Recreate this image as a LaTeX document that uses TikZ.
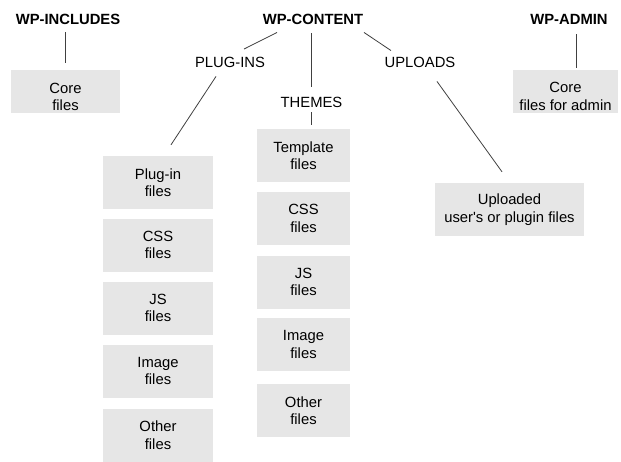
\documentclass[tikz,border=0pt]{standalone}
\usepackage{fontspec}
\setmainfont{Liberation Sans}
\definecolor{boxgray}{HTML}{E6E6E6}
\definecolor{linegray}{HTML}{404040}
\begin{document}
\begin{tikzpicture}[x=1pt,y=-1pt,
  title/.style={font=\fontsize{14.8}{17.5}\selectfont\bfseries, inner sep=0pt, anchor=center},
  label/.style={font=\fontsize{14.8}{17.5}\selectfont, inner sep=0pt, anchor=center},
  boxtext/.style={font=\fontsize{14.8}{17.5}\selectfont, inner sep=0pt, align=center},
  filebox/.style={fill=boxgray, draw=none, minimum width=#1, minimum height=53pt,
    inner sep=0pt, align=center, font=\fontsize{14.8}{17.5}\selectfont},
  filebox/.default=110pt,
  conn/.style={draw=linegray, line width=0.8pt}]
\useasboundingbox (0,0) rectangle (621,461);
% titles
\node[title] (inc) at (68,19) {WP-INCLUDES};
\node[title] (content) at (313,19) {WP-CONTENT};
\node[title] (admin) at (569,19) {WP-ADMIN};
% sub labels
\node[label] (plugins) at (230,62) {PLUG-INS};
\node[label] (themes) at (311.5,102) {THEMES};
\node[label] (uploads) at (420,62) {UPLOADS};
% top boxes (text sits low in these boxes)
\node[filebox=109pt, minimum height=43pt] (corebox) at (65.5,91.5) {};
\node[boxtext] (coretext) at (65.5,97) {Core\\files};
\node[filebox=105pt, minimum height=43pt] (adminbox) at (565.5,91.5) {};
\node[boxtext] (admintext) at (565.5,96.5) {Core\\files for admin};
\node[filebox=149pt] (upbox) at (509.5,209.5) {Uploaded\\user\textquotesingle s or plugin files};
% plug-in column
\node[filebox] (p1) at (158,182.5) {Plug-in\\files};
\node[filebox] (p2) at (158,245) {CSS\\files};
\node[filebox] (p3) at (158,308) {JS\\files};
\node[filebox] (p4) at (158,371) {Image\\files};
\node[filebox] (p5) at (158,435) {Other\\files};
% themes column
\node[filebox=93pt] (t1) at (303.5,155.5) {Template\\files};
\node[filebox=93pt] (t2) at (303.5,218.5) {CSS\\files};
\node[filebox=93pt] (t3) at (303.5,282) {JS\\files};
\node[filebox=93pt] (t4) at (303.5,344.5) {Image\\files};
\node[filebox=93pt] (t5) at (303.5,410.5) {Other\\files};
% connectors
\draw[conn] ([yshift=-8pt]inc.south -| corebox.north) -- ([yshift=7pt]corebox.north);
\draw[conn] ([xshift=-2pt,yshift=-9pt]content.south) -- ([xshift=-0.5pt,yshift=10pt]themes.north);
\draw[conn] ([xshift=-0.5pt,yshift=-5pt]themes.south) -- ([xshift=7.5pt,yshift=4pt]t1.north);
\draw[conn] ([xshift=-36pt,yshift=-8pt]content.south) -- ([xshift=14pt,yshift=7.5pt]plugins.north);
\draw[conn] ([xshift=-14pt,yshift=-9pt]plugins.south) -- ([xshift=13pt,yshift=11pt]p1.north);
\draw[conn] ([xshift=51pt,yshift=-8pt]content.south) -- ([xshift=-29pt,yshift=6pt]uploads.north);
\draw[conn] ([xshift=17pt,yshift=-14pt]uploads.south) -- ([xshift=-7.5pt,yshift=11pt]upbox.north);
\draw[conn] ([xshift=7pt,yshift=-10pt]admin.south) -- ([xshift=10.5pt,yshift=2pt]adminbox.north);
\end{tikzpicture}
\end{document}
